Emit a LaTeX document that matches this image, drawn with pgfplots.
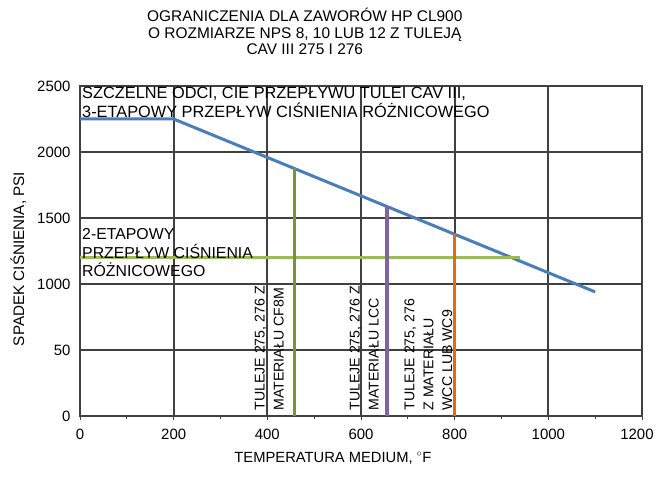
\documentclass[border=0pt]{standalone}
\usepackage{pgfplots}
\pgfplotsset{compat=1.18}
\usepackage{fontspec}
\setmainfont{Liberation Sans}
\definecolor{lineblue}{HTML}{4A7EBB}
\definecolor{darkgreen}{HTML}{77933C}
\definecolor{lightgreen}{HTML}{9BBB59}
\definecolor{purp}{HTML}{8064A2}
\definecolor{orng}{HTML}{E46C0A}
\definecolor{gridgray}{HTML}{404040}
\begin{document}
\begin{tikzpicture}
\useasboundingbox (-80bp,-67bp) rectangle (575bp,416bp);
\begin{axis}[
  at={(0,0)}, anchor=south west,
  scale only axis, width=562bp, height=330bp,
  xmin=0, xmax=1200, ymin=0, ymax=2500,
  xtick={0,200,...,1200}, minor xtick={100,300,...,1100},
  xticklabels={0,200,400,600,800,1000,\hspace*{-10bp}1200},
  ytick={0,500,...,2500}, yticklabels={0,50,1000,1500,2000,2500},
  grid=major, major grid style={draw=gridgray, line width=1.8bp},
  axis line style={draw=gridgray, line width=1.8bp},
  xtick style={draw=gridgray, line width=0.8bp},
  ytick style={draw=none},
  tick align=outside, xtick pos=bottom, ytick pos=left,
  major tick length=4bp, minor tick length=3bp,
  /pgf/number format/assume math mode=true,
  ticklabel style={font=\fontsize{15}{16}\selectfont},
  xticklabel style={yshift=-6bp},
  yticklabel style={xshift=-2bp},
  xlabel={TEMPERATURA MEDIUM, $^{\circ}$F},
  xlabel style={at={(axis description cs:0.450,0)}, anchor=center, yshift=-42bp, font=\fontsize{14.8}{16}\selectfont},
  ylabel={SPADEK CIŚNIENIA, PSI},
  ylabel style={at={(axis description cs:-0.110,0.476)}, anchor=center, font=\fontsize{15.3}{16}\selectfont},
  clip=false,
]
\addplot[lineblue, line width=3bp] coordinates {(0,2250) (200,2250) (1100,940)};
\addplot[lightgreen, line width=3bp] coordinates {(0,1200) (940,1200)};
\addplot[darkgreen, line width=3bp] coordinates {(458,0) (458,1878)};
\addplot[purp, line width=3.5bp] coordinates {(655,0) (655,1592)};
\addplot[orng, line width=3bp] coordinates {(800,0) (800,1378)};

\node[anchor=south, align=center, inner sep=0pt, font=\fontsize{15.5}{16.5}\selectfont]
  at (rel axis cs:0.40,1) [yshift=31bp] {OGRANICZENIA DLA ZAWORÓW HP CL900\\O ROZMIARZE NPS 8, 10 LUB 12 Z TULEJĄ\\CAV III 275 I 276};
\node[anchor=north west, align=left, inner sep=0pt, font=\fontsize{16.4}{18.5}\selectfont]
  at (rel axis cs:0,1) [xshift=2bp, yshift=-1bp] {SZCZELNE ODCI, CIE PRZEPŁYWU TULEI CAV III,\\3-ETAPOWY PRZEPŁYW CIŚNIENIA RÓŻNICOWEGO};
\node[anchor=north west, align=left, inner sep=0pt, font=\fontsize{15.9}{18.5}\selectfont]
  at (axis cs:0,1420) [xshift=2bp] {2-ETAPOWY\\PRZEPŁYW CIŚNIENIA\\RÓŻNICOWEGO};
\node[anchor=west, rotate=90, align=left, inner sep=0pt, font=\fontsize{14.2}{19}\selectfont]
  at (axis cs:404,40) {TULEJE 275, 276 Z\\MATERIAŁU CF8M};
\node[anchor=west, rotate=90, align=left, inner sep=0pt, font=\fontsize{14.2}{19}\selectfont]
  at (axis cs:607,40) {TULEJE 275, 276 Z\\MATERIAŁU LCC};
\node[anchor=west, rotate=90, align=left, inner sep=0pt, font=\fontsize{14.2}{19}\selectfont]
  at (axis cs:744,40) {TULEJE 275, 276\\Z MATERIAŁU\\WCC LUB WC9};
\end{axis}
\end{tikzpicture}
\end{document}
